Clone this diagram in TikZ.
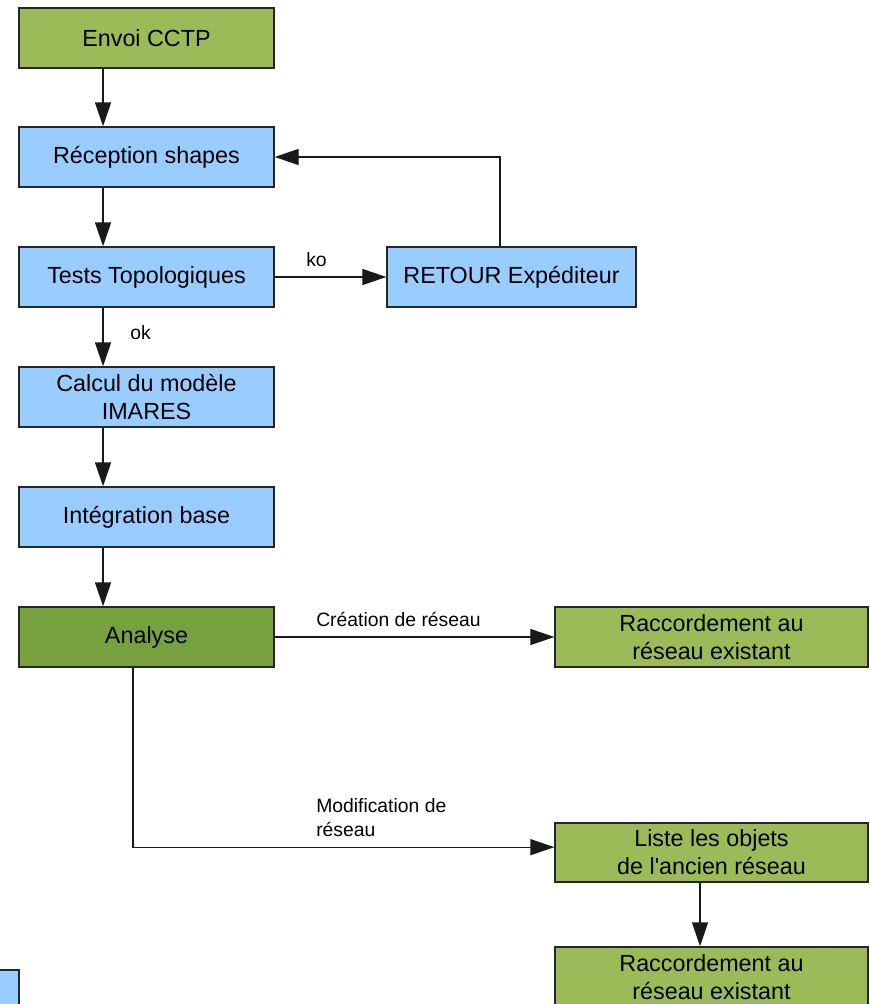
\documentclass[tikz,border=0pt]{standalone}
\usepackage{fontspec}
\setmainfont{Liberation Sans}
\usetikzlibrary{arrows.meta}

\definecolor{boxblue}{RGB}{153,204,255}
\definecolor{boxgreen}{RGB}{155,187,89}
\definecolor{darkgreen}{RGB}{119,160,63}

\begin{document}
\begin{tikzpicture}[> = {Triangle[length = 18pt, width = 12pt]}, x = 0.75pt, y = -0.75pt,
	box/.style = {draw = black!85, line width = 1pt, minimum width = 191.25pt, minimum height = 45pt, inner sep = 0pt, align = center, font = \fontsize{17.5}{21}\selectfont},
	widebox/.style = {box, minimum width = 234.75pt},
	lbl/.style = {inner sep = 0pt, anchor = base west, align = left, font = \fontsize{14.5}{18}\selectfont},
	flow/.style = {->, line width = 1pt, black!90}]

	% Definitions

	\def\dx{-32.6pt}	% Shift of the arrows of the left column

	\useasboundingbox (0, 0) rectangle (869, 1004);

	% Left column

	\node [box, fill = boxgreen] (envoi) at (146.5, 38) {Envoi CCTP};
	\node [box, fill = boxblue] (reception) at (146.5, 157) {Réception shapes};
	\node [box, fill = boxblue] (tests) at (146.5, 277) {Tests Topologiques};
	\node [box, fill = boxblue] (calcul) at (146.5, 397) {Calcul du modèle\\IMARES};
	\node [box, fill = boxblue] (integration) at (146.5, 517) {Intégration base};
	\node [box, fill = darkgreen] (analyse) at (146.5, 637) {Analyse};
	\node [box, fill = boxblue] (autre) at (-108.5, 1000) {};

	% Right column

	\node [box, fill = boxblue, minimum width = 186.75pt] (retour) at (511.5, 277) {RETOUR Expéditeur};
	\node [widebox, fill = boxgreen] (raccord) at (711.5, 637) {Raccordement au\\réseau existant};
	\node [widebox, fill = boxgreen, minimum height = 44.25pt] (liste) at (711.5, 852.5) {Liste les objets\\de l\textquotesingle ancien réseau};
	\node [widebox, fill = boxgreen] (raccordbis) at (711.5, 977) {Raccordement au\\réseau existant};

	% Arrows

	\draw [flow] ([xshift = \dx]envoi.south) -- ([xshift = \dx]reception.north);
	\draw [flow] ([xshift = \dx]reception.south) -- ([xshift = \dx]tests.north);
	\draw [flow] ([xshift = \dx]tests.south) -- ([xshift = \dx]calcul.north);
	\draw [flow] ([xshift = \dx]calcul.south) -- ([xshift = \dx]integration.north);
	\draw [flow] ([xshift = \dx]integration.south) -- ([xshift = \dx]analyse.north);
	\draw [flow] (tests) -- (retour);
	\draw [flow] ([xshift = -8.6pt]retour.north) |- (reception.east);
	\draw [flow] (analyse) -- (raccord);
	\draw [flow] ([xshift = -10.1pt]analyse.south) |- ([yshift = 4pt]liste.west);
	\draw [flow] ([xshift = -8.6pt]liste.south) -- ([xshift = -8.6pt]raccordbis.north);

	% Labels

	\node [lbl] (ko) at (306, 266) {ko};
	\node [lbl] (ok) at (130, 339) {ok};
	\node [lbl] (creation) at (316, 626) {Création de réseau};
	\node [lbl] (modification) at (316, 836) {Modification de\\réseau};

\end{tikzpicture}
\end{document}
